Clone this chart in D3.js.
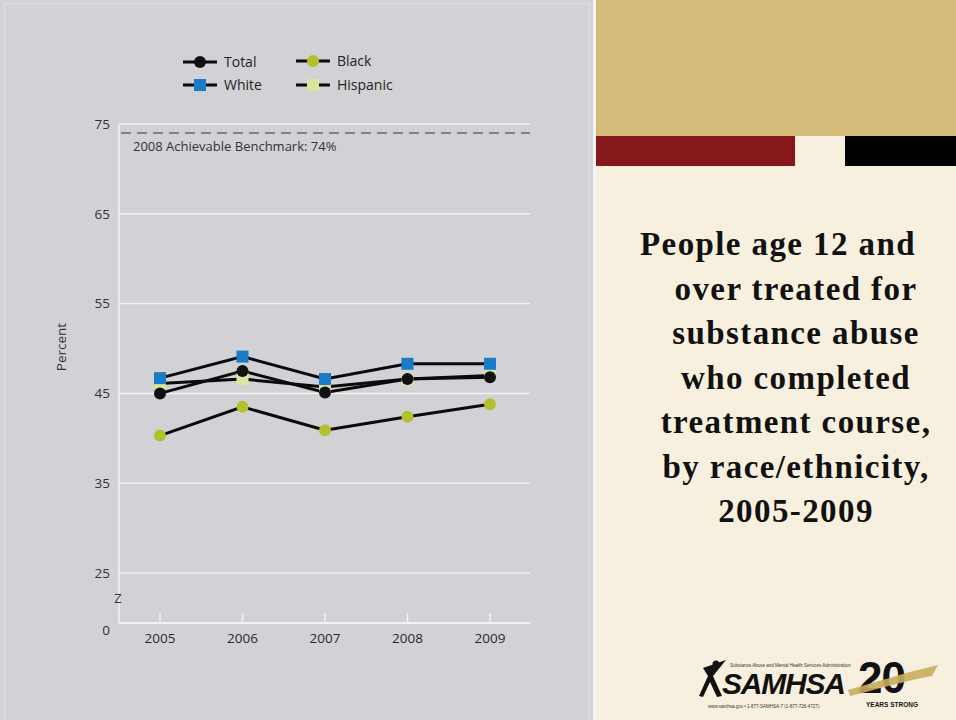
<!DOCTYPE html>
<html>
<head>
<meta charset="utf-8">
<script src="https://cdn.jsdelivr.net/npm/d3@7"></script>
<style>
  html, body { margin: 0; padding: 0; background: #f8f0de; }
  svg { display: block; }
</style>
</head>
<body>
<svg id="chart" width="956" height="720"></svg>
<script>
// Completion rates (%) of substance abuse treatment, by race/ethnicity
const years = [2005, 2006, 2007, 2008, 2009];
const totalValues = [45.0, 47.5, 45.1, 46.6, 46.8];
const whiteValues = [46.7, 49.1, 46.6, 48.3, 48.3];
const blackValues = [40.3, 43.5, 40.9, 42.4, 43.8];
const hispanicValues = [46.1, 46.6, 45.7, 46.6, 47.0];
const yTicks = [0, 25, 35, 45, 55, 65, 75];
const benchmark = 74;
const titleLines = [
  "People age 12 and",
  "over treated for",
  "substance abuse",
  "who completed",
  "treatment course,",
  "by race/ethnicity,",
  "2005-2009"
];

const series = [
  { name: "Hispanic", values: hispanicValues, shape: "square", fill: "#dde59c" },
  { name: "Black", values: blackValues, shape: "circle", fill: "#b3c22c" },
  { name: "Total", values: totalValues, shape: "circle", fill: "#111111" },
  { name: "White", values: whiteValues, shape: "square", fill: "#1a7bc6" }
];

const svg = d3.select("#chart");

// ---- slide panels ----
svg.append("rect").attr("x", 0).attr("y", 0).attr("width", 593).attr("height", 720).attr("fill", "#d2d2d6");
svg.append("rect").attr("x", 4.5).attr("y", 3.5).attr("width", 585).attr("height", 720)
  .attr("fill", "none").attr("stroke", "#dcdce0").attr("stroke-width", 2);
svg.append("rect").attr("x", 593).attr("y", 0).attr("width", 3).attr("height", 720).attr("fill", "#f4f4f4");
svg.append("rect").attr("x", 596).attr("y", 0).attr("width", 360).attr("height", 720).attr("fill", "#f8f0de");
svg.append("rect").attr("x", 596).attr("y", 0).attr("width", 360).attr("height", 136).attr("fill", "#d6bc7b");
svg.append("rect").attr("x", 596).attr("y", 136).attr("width", 199).attr("height", 30).attr("fill", "#86171b");
svg.append("rect").attr("x", 845).attr("y", 136).attr("width", 111).attr("height", 30).attr("fill", "#000000");

// ---- title ----
const title = svg.append("text")
  .attr("font-family", "'Liberation Serif', 'DejaVu Serif', serif")
  .attr("font-weight", "bold")
  .attr("font-size", 33)
  .attr("letter-spacing", 1.4)
  .attr("fill", "#111")
  .attr("text-anchor", "middle");
title.selectAll("tspan").data(titleLines).join("tspan")
  .attr("x", (d, i) => i === 0 ? 778 : 796)
  .attr("y", (d, i) => 255 + i * 44.5)
  .text(d => d);

// ---- chart scales ----
const x = d3.scalePoint().domain(years).range([160, 490]);
// broken axis: 0-25 is compressed below the break
const y = d3.scaleLinear().domain([0, 25, 75]).range([623, 573, 124]);
const plotLeft = 119, plotRight = 530;

const g = svg.append("g");

// gridlines
g.selectAll("line.grid").data(yTicks.filter(d => d > 0)).join("line")
  .attr("class", "grid")
  .attr("x1", plotLeft).attr("x2", plotRight)
  .attr("y1", d => y(d)).attr("y2", d => y(d))
  .attr("stroke", "#f2f2f4").attr("stroke-width", 1.5);

// y axis line and baseline
g.append("line").attr("x1", plotLeft).attr("x2", plotLeft).attr("y1", y(75)).attr("y2", y(0))
  .attr("stroke", "#f2f2f4").attr("stroke-width", 1.5);
g.append("line").attr("x1", plotLeft).attr("x2", plotRight).attr("y1", y(0)).attr("y2", y(0))
  .attr("stroke", "#f2f2f4").attr("stroke-width", 2);

// x ticks pointing up from baseline
g.selectAll("line.xtick").data(years).join("line")
  .attr("class", "xtick")
  .attr("x1", d => x(d)).attr("x2", d => x(d))
  .attr("y1", y(0)).attr("y2", y(0) - 10)
  .attr("stroke", "#f2f2f4").attr("stroke-width", 1.5);

const labelFont = "'Open Sans', 'Noto Sans', sans-serif";

// y tick labels
g.selectAll("text.ytick").data(yTicks).join("text")
  .attr("class", "ytick")
  .attr("x", 110)
  .attr("y", d => y(d) + (d === 0 ? 7 : 0))
  .attr("dy", "0.35em")
  .attr("text-anchor", "end")
  .attr("font-family", labelFont).attr("font-size", 13.5).attr("fill", "#333")
  .text(d => d);

// axis break mark
g.append("text").attr("x", 118).attr("y", 598).attr("dy", "0.35em")
  .attr("text-anchor", "middle")
  .attr("font-family", labelFont).attr("font-size", 13).attr("fill", "#333")
  .text("Z");

// x tick labels
g.selectAll("text.xlab").data(years).join("text")
  .attr("class", "xlab")
  .attr("x", d => x(d)).attr("y", 638).attr("dy", "0.35em")
  .attr("text-anchor", "middle")
  .attr("font-family", labelFont).attr("font-size", 13.5).attr("fill", "#2a2a2a")
  .text(d => d);

// y axis title
g.append("text")
  .attr("transform", "translate(66,347) rotate(-90)")
  .attr("text-anchor", "middle")
  .attr("font-family", labelFont).attr("font-size", 13.5).attr("fill", "#333")
  .text("Percent");

// benchmark
g.append("line").attr("x1", plotLeft + 2).attr("x2", plotRight)
  .attr("y1", y(benchmark)).attr("y2", y(benchmark))
  .attr("stroke", "#6a6a6c").attr("stroke-width", 1.6).attr("stroke-dasharray", "10,6");
g.append("text").attr("x", 133).attr("y", 146).attr("dy", "0.35em")
  .attr("font-family", labelFont).attr("font-size", 13).attr("fill", "#333")
  .text("2008 Achievable Benchmark: " + benchmark + "%");

// ---- series ----
const line = d3.line().x((d, i) => x(years[i])).y(d => y(d));

function drawMarker(sel, shape, fill, cx, cy) {
  if (shape === "circle") {
    sel.append("circle").attr("cx", cx).attr("cy", cy).attr("r", 6).attr("fill", fill);
  } else {
    sel.append("rect").attr("x", cx - 6).attr("y", cy - 6).attr("width", 12).attr("height", 12).attr("fill", fill);
  }
}

series.forEach(s => {
  g.append("path").datum(s.values).attr("d", line)
    .attr("fill", "none").attr("stroke", "#0b0b0b").attr("stroke-width", 3);
});
series.forEach(s => {
  const mg = g.append("g");
  s.values.forEach((v, i) => drawMarker(mg, s.shape, s.fill, x(years[i]), y(v)));
});

// ---- legend ----
const legendItems = [
  { name: "Total", lx: 183, ly: 62 },
  { name: "White", lx: 183, ly: 85 },
  { name: "Black", lx: 296, ly: 61 },
  { name: "Hispanic", lx: 296, ly: 85 }
];
const lg = svg.append("g");
legendItems.forEach(item => {
  const s = series.find(d => d.name === item.name);
  lg.append("line").attr("x1", item.lx).attr("x2", item.lx + 34)
    .attr("y1", item.ly).attr("y2", item.ly)
    .attr("stroke", "#0b0b0b").attr("stroke-width", 3);
  drawMarker(lg, s.shape, s.fill, item.lx + 17, item.ly);
  lg.append("text").attr("x", item.lx + 41).attr("y", item.ly).attr("dy", "0.35em")
    .attr("font-family", labelFont).attr("font-size", 14).attr("fill", "#222")
    .text(item.name);
});

// ---- logo ----
const logo = svg.append("g");
const logoFont = "'Liberation Sans', Arial, sans-serif";
// running figure
logo.append("circle").attr("cx", 716).attr("cy", 664).attr("r", 3.5).attr("fill", "#111");
logo.append("path")
  .attr("d", "M703,668 L726,660 L713,676 L722,696 L717,697 L710,682 L703,697 L699,696 L708,676 Z")
  .attr("fill", "#111");
logo.append("text").attr("x", 722).attr("y", 694)
  .attr("font-family", logoFont).attr("font-weight", "bold")
  .attr("font-style", "italic").attr("font-size", 30).attr("fill", "#111")
  .attr("textLength", 124).text("SAMHSA");
logo.append("text").attr("x", 730).attr("y", 667)
  .attr("font-family", logoFont).attr("font-size", 4.5).attr("fill", "#333")
  .text("Substance Abuse and Mental Health Services Administration");
logo.append("text").attr("x", 708).attr("y", 708)
  .attr("font-family", logoFont).attr("font-size", 4.5).attr("fill", "#333")
  .text("www.samhsa.gov • 1-877-SAMHSA-7 (1-877-726-4727)");
logo.append("text").attr("x", 858).attr("y", 693)
  .attr("font-family", logoFont).attr("font-weight", "900")
  .attr("font-size", 44).attr("fill", "#111").attr("letter-spacing", -1).text("20");
logo.append("path")
  .attr("d", "M848,690 C870,684 900,674 938,665 L932,676 C900,682 875,690 850,696 Z")
  .attr("fill", "#c9ad5e").attr("opacity", 0.9);
logo.append("text").attr("x", 866).attr("y", 707)
  .attr("font-family", logoFont).attr("font-weight", "bold")
  .attr("font-size", 6.5).attr("fill", "#111").text("YEARS STRONG");
</script>
</body>
</html>
